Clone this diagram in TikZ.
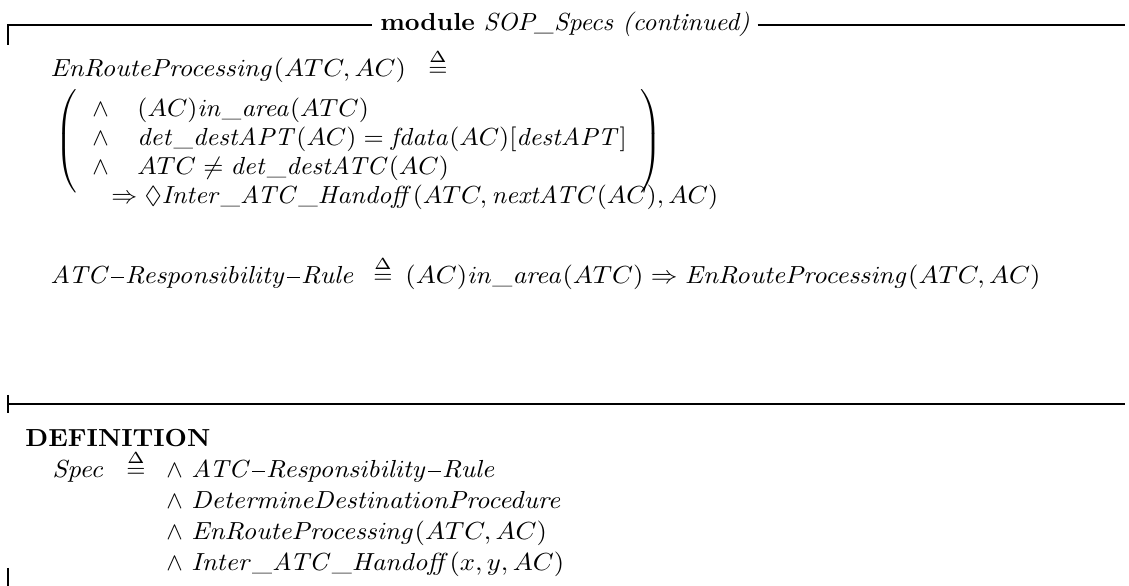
\documentclass[tikz,border=0pt]{standalone}
\usepackage{amsmath,amssymb}
\newcommand{\defeq}{{\stackrel{\scalebox{1.3}{$\scriptscriptstyle\Delta$}}{=}}}
\newcommand{\hsc}[2]{\scalebox{#1}[1]{#2}}
\newcommand{\tdash}{\kern0.3pt\rule[2.3pt]{5pt}{0.7pt}\kern0.3pt}
\begin{document}
\begin{tikzpicture}[x=0.405pt,y=-0.405pt,
  txt/.style={anchor=base west,inner sep=0pt},
  paren/.style={inner sep=0pt},
  rule/.style={line width=0.8pt}]
\useasboundingbox (0,0) rectangle (1129,586);
% header
\node[anchor=base,inner sep=3pt] (title) at (565,31) {\hsc{1.04}{\textbf{module} \textit{SOP\_Specs (continued)}}};
\coordinate (tl) at (8,45);
\coordinate (tc) at (8,25);
\coordinate (tr) at (1125,25);
\draw[rule] (tl) -- (tc) -- (tc -| title.west);
\draw[rule] (tc -| title.east) -- (tr);
% EnRouteProcessing definition
\node[txt] (erp) at (50,77) {\hsc{1.08}{$\mathit{EnRouteProcessing}(ATC, AC)$}};
\node[txt] (erpdef) at (428,77) {$\defeq$};
\node[paren] (lp) at (68,141) {$\left(\vrule height 18pt depth 18pt width 0pt\right.$};
\node[paren] (rp) at (650,141) {$\left.\vrule height 18pt depth 18pt width 0pt\right)$};
\node[txt] (a1) at (92,117) {$\wedge$};
\node[txt] (a2) at (92,146) {$\wedge$};
\node[txt] (a3) at (92,175) {$\wedge$};
\node[txt] (c1) at (137,117) {\hsc{1.05}{$(AC)\mathit{in\_area}(ATC)$}};
\node[txt] (c2) at (137,146) {\hsc{1.05}{$\mathit{det\_destAPT}(AC) = \mathit{fdata}(AC)[\mathit{destAPT}]$}};
\node[txt] (c3) at (137,175) {\hsc{1.05}{$ATC \neq \mathit{det\_destATC}(AC)$}};
\node[txt] (imp) at (111,204) {\hsc{1.05}{$\Rightarrow \Diamond\mathit{Inter\_ATC\_Handoff}(ATC, \mathit{nextATC}(AC), AC)$}};
% responsibility rule
\node[txt] (rr) at (50,284) {\hsc{1.08}{$\mathit{ATC}\tdash\mathit{Responsibility}\tdash\mathit{Rule}$}};
\node[txt] (rrdef) at (373,284) {$\defeq$};
\node[txt] (rrbody) at (405,284) {\hsc{1.08}{$(AC)\mathit{in\_area}(ATC) \Rightarrow \mathit{EnRouteProcessing}(ATC, AC)$}};
% separator
\coordinate (ml) at (8,404);
\coordinate (mt) at (8,395);
\coordinate (mb) at (8,413);
\coordinate (mr) at (1125,404);
\draw[rule] (mt) -- (mb);
\draw[rule] (ml) -- (mr);
% definition
\node[txt] (defn) at (25,447) {\hsc{1.05}{\textbf{DEFINITION}}};
\node[txt] (spec) at (52,478) {\hsc{1.08}{$\mathit{Spec}$}};
\node[txt] (specdef) at (126,478) {$\defeq$};
\node[txt] (a4) at (166,478) {$\wedge$};
\node[txt] (a5) at (166,509) {$\wedge$};
\node[txt] (a6) at (166,540) {$\wedge$};
\node[txt] (a7) at (166,571) {$\wedge$};
\node[txt] (s1) at (191,478) {\hsc{1.08}{$\mathit{ATC}\tdash\mathit{Responsibility}\tdash\mathit{Rule}$}};
\node[txt] (s2) at (191,509) {\hsc{1.08}{$\mathit{DetermineDestinationProcedure}$}};
\node[txt] (s3) at (191,540) {\hsc{1.08}{$\mathit{EnRouteProcessing}(ATC, AC)$}};
\node[txt] (s4) at (191,571) {\hsc{1.08}{$\mathit{Inter\_ATC\_Handoff}(x, y, AC)$}};
\coordinate (bt) at (8,568);
\coordinate (bb) at (8,586);
\draw[rule] (bt) -- (bb);
\end{tikzpicture}
\end{document}
